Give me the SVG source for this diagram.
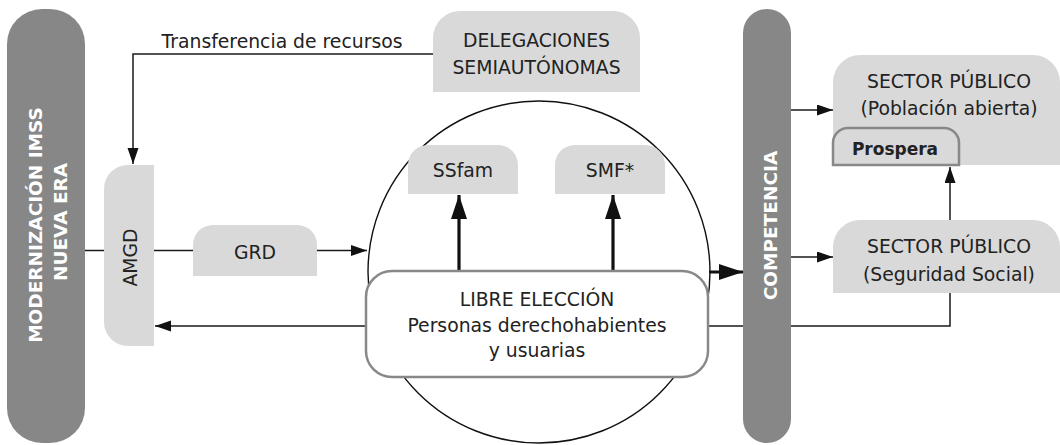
<svg xmlns="http://www.w3.org/2000/svg" width="1060" height="445" viewBox="0 0 1060 445">
<defs>
<style>
.t{font-family:"DejaVu Sans","Liberation Sans",sans-serif;font-size:18.8px;fill:#222;text-anchor:middle}
.b{font-family:"DejaVu Sans","Liberation Sans",sans-serif;font-size:18.5px;font-weight:bold;fill:#fff;text-anchor:middle}
.bar{fill:#878787}
.box{fill:#d9d9d9}
.ln{fill:none;stroke:#1a1a1a;stroke-width:1.5}
.th{fill:none;stroke:#111;stroke-width:3.2}
</style>
<marker id="ah" markerUnits="userSpaceOnUse" markerWidth="17" markerHeight="12" refX="16" refY="5.5" orient="auto"><path d="M0,0 L16,5.5 L0,11 Z" fill="#111"/></marker>
<marker id="ahb" markerUnits="userSpaceOnUse" markerWidth="25" markerHeight="17" refX="24" refY="8" orient="auto"><path d="M0,0 L24,8 L0,16 Z" fill="#111"/></marker>
</defs>
<rect width="1060" height="445" fill="#fff"/>
<g id="connectors">
<path class="ln" d="M433,54 H133 V164" marker-end="url(#ah)"/>
<path class="ln" d="M85,250.5 H367" marker-end="url(#ah)"/>
<path class="ln" d="M950,293 V326 H155" marker-end="url(#ah)"/>
<path class="ln" d="M950,220 V167" marker-end="url(#ah)"/>
<path class="ln" d="M791,110 H833" marker-end="url(#ah)"/>
<path class="ln" d="M791,257 H833" marker-end="url(#ah)"/>
<path class="th" d="M459,271 V195" marker-end="url(#ahb)"/>
<path class="th" d="M613,271 V195" marker-end="url(#ahb)"/>
<path class="th" d="M709,272 H743" marker-end="url(#ahb)"/>
<text class="t" x="282" y="48">Transferencia de recursos</text>
</g>
<g id="modernizacion">
<rect class="bar" x="7" y="9" width="78" height="434" rx="35"/>
<text class="b" transform="translate(42,225) rotate(-90)">MODERNIZACIÓN IMSS</text>
<text class="b" transform="translate(67,222) rotate(-90)">NUEVA ERA</text>
</g>
<g id="competencia">
<rect class="bar" x="743" y="9" width="48" height="434" rx="24"/>
<text class="b" transform="translate(777,225.5) rotate(-90)">COMPETENCIA</text>
</g>
<g id="delegaciones">
<path class="box" d="M433,92 V38 A27,27 0 0 1 460,11 H613 A27,27 0 0 1 640,38 V92 Z"/>
<text class="t" x="536.5" y="47">DELEGACIONES</text>
<text class="t" x="536.5" y="74">SEMIAUTÓNOMAS</text>
</g>
<g id="amgd">
<path class="box" d="M154,165 V346 H128 A24,24 0 0 1 104,322 V189 A24,24 0 0 1 128,165 Z"/>
<text class="t" transform="translate(137,257.5) rotate(-90)">AMGD</text>
</g>
<g id="grd">
<path class="box" d="M193,276 V245 A20,20 0 0 1 213,225 H297 A20,20 0 0 1 317,245 V276 Z"/>
<text class="t" x="255" y="259">GRD</text>
</g>
<g id="circulo">
<circle cx="539" cy="272" r="171" fill="none" stroke="#111" stroke-width="1.4"/>
</g>
<g id="ssfam">
<path class="box" d="M408,194 V165 A20,20 0 0 1 428,145 H498 A20,20 0 0 1 518,165 V194 Z"/>
<text class="t" x="463" y="177">SSfam</text>
</g>
<g id="smf">
<path class="box" d="M555,194 V165 A20,20 0 0 1 575,145 H645 A20,20 0 0 1 665,165 V194 Z"/>
<text class="t" x="610" y="177">SMF*</text>
</g>
<g id="libre-eleccion">
<rect x="366" y="271" width="342" height="106" rx="26" fill="#fff" stroke="#888" stroke-width="2.5"/>
<text class="t" x="537" y="306">LIBRE ELECCIÓN</text>
<text class="t" x="537" y="332">Personas derechohabientes</text>
<text class="t" x="537" y="357">y usuarias</text>
</g>
<g id="sector-abierta">
<path class="box" d="M833,165 V82 A27,27 0 0 1 860,55 H1033 A27,27 0 0 1 1060,82 V165 Z"/>
<text class="t" x="949" y="88">SECTOR PÚBLICO</text>
<text class="t" x="949" y="115">(Población abierta)</text>
</g>
<g id="prospera">
<path d="M833,165 V143 A15,15 0 0 1 848,128 H944 A15,15 0 0 1 959,143 V165 Z" fill="#d9d9d9" stroke="#888" stroke-width="2.5"/>
<text x="895" y="155" style="font-family:'DejaVu Sans','Liberation Sans',sans-serif;font-size:17px;font-weight:bold;fill:#222;text-anchor:middle">Prospera</text>
</g>
<g id="sector-seguridad">
<path class="box" d="M833,293 V247 A27,27 0 0 1 860,220 H1033 A27,27 0 0 1 1060,247 V293 Z"/>
<text class="t" x="949" y="253">SECTOR PÚBLICO</text>
<text class="t" x="949" y="281">(Seguridad Social)</text>
</g>
</svg>
